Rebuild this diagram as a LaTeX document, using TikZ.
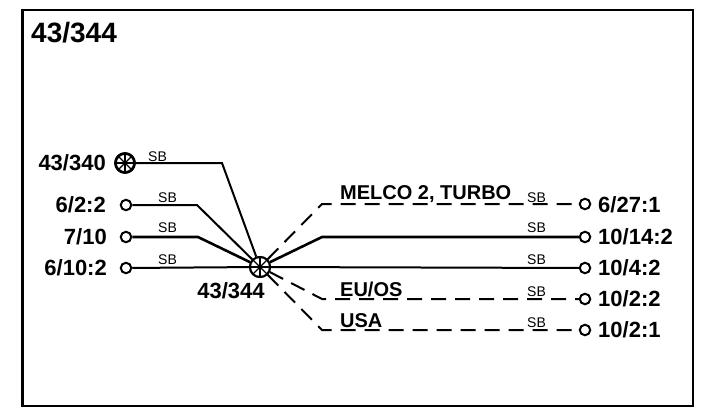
\documentclass[tikz,border=0pt]{standalone}
\usepackage{fontspec}
\setmainfont{Liberation Sans}
\begin{document}
\begin{tikzpicture}[x=1pt,y=-1pt,
  wire/.style={line width=2pt},
  dwire/.style={line width=2pt, dash pattern=on 15pt off 9pt},
  lbl/.style={font=\fontsize{22}{24}\selectfont\bfseries, inner sep=0pt},
  hlbl/.style={font=\fontsize{20}{22}\selectfont\bfseries, inner sep=0pt, anchor=base west},
  sblbl/.style={font=\fontsize{14}{15}\selectfont, inner sep=0pt, anchor=base west},
  term/.style={circle, draw, line width=2pt, minimum size=10.5pt, inner sep=0pt, fill=white},
  splicept/.style={circle, draw, line width=2pt, minimum size=20pt, inner sep=0pt, fill=white,
    path picture={\foreach \a in {0,45,90,135}
      \draw[line width=1.3pt] (path picture bounding box.center) ++(\a:11pt) -- ++(\a+180:22pt);}}]
\useasboundingbox (0,0) rectangle (704,418);
\draw[line width=2.2pt] (22.5,10) rectangle (693,406);
\node[lbl, font=\fontsize{28}{30}\selectfont\bfseries, anchor=west] (title) at (31,33) {43/344};
% left side
\node[splicept, minimum size=19pt, line width=2.6pt] (s340) at (125,163) {};
\node[lbl, anchor=east] (l340) at (106,163) {43/340};
\node[term] (t622) at (126,205) {};
\node[lbl, anchor=east] (l622) at (106,205) {6/2:2};
\node[term] (t710) at (126,237) {};
\node[lbl, anchor=east] (l710) at (107,237) {7/10};
\node[term] (t6102) at (126,268) {};
\node[lbl, anchor=east] (l6102) at (107,268) {6/10:2};
% center splice
\node[splicept] (c) at (260,267) {};
\node[lbl] (lc) at (231,291) {43/344};
% bends
\coordinate (b1) at (222,163);
\coordinate (b2) at (197,205);
\coordinate (b3) at (198,237);
\coordinate (r1) at (322,204);
\coordinate (r2) at (322,237);
\coordinate (r4) at (322,299);
\coordinate (r5) at (322,330);
% right terminals
\node[term] (t6271) at (585,204) {};
\node[lbl, anchor=west] (l6271) at (598,205) {6/27:1};
\node[term] (t10142) at (585,237) {};
\node[lbl, anchor=west] (l10142) at (598,237) {10/14:2};
\node[term] (t1042) at (585,268) {};
\node[lbl, anchor=west] (l1042) at (598,268) {10/4:2};
\node[term] (t1022) at (585,299) {};
\node[lbl, anchor=west] (l1022) at (598,299) {10/2:2};
\node[term] (t1021) at (585,330) {};
\node[lbl, anchor=west] (l1021) at (598,330) {10/2:1};
% left wires
\draw[wire] (s340) -- (b1) -- (c);
\draw[wire] (t622) -- (b2) -- (c);
\draw[wire, line width=2.6pt] (t710) -- (b3) -- (c);
\draw[wire] (t6102) -- (c);
% right wires
\draw[dwire] (c) -- (r1) -- (t6271);
\draw[wire, line width=2.6pt] (c) -- (r2) -- (t10142);
\draw[wire] (c) -- (t1042);
\draw[dwire] (c) -- (r4) -- (t1022);
\draw[dwire] (c) -- (r5) -- (t1021);
% redraw splices on top
\node[splicept, minimum size=19pt, line width=2.6pt] at (125,163) {};
\node[splicept] at (260,267) {};
% SB labels
\node[sblbl] (sb1) at (148,161) {SB};
\node[sblbl] (sb2) at (158,202) {SB};
\node[sblbl] (sb3) at (158,232) {SB};
\node[sblbl] (sb4) at (158,264) {SB};
\node[sblbl] (sb5) at (527,202) {SB};
\node[sblbl] (sb6) at (527,232) {SB};
\node[sblbl] (sb7) at (527,264) {SB};
\node[sblbl] (sb8) at (527,296) {SB};
\node[sblbl] (sb9) at (527,327) {SB};
% harness labels
\node[hlbl] (melco) at (340,199) {MELCO 2, TURBO};
\node[hlbl] (euos) at (340,296) {EU/OS};
\node[hlbl] (usa) at (340,327) {USA};
\end{tikzpicture}
\end{document}
